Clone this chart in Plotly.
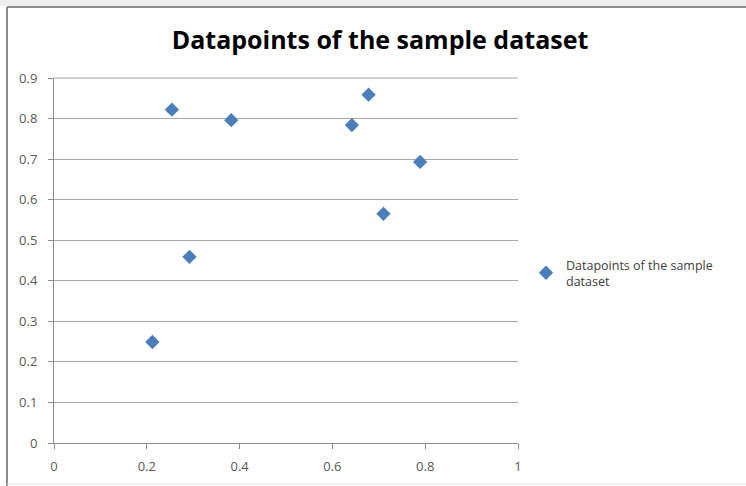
import plotly.graph_objects as go

# Data
x_vals = [0.254, 0.382, 0.292, 0.212, 0.642, 0.678, 0.789, 0.710]
y_vals = [0.822, 0.796, 0.459, 0.249, 0.784, 0.859, 0.693, 0.565]
series_name = "Datapoints of the sample<br>dataset"
title_text = "Datapoints of the sample dataset"
x_ticks = [0, 0.2, 0.4, 0.6, 0.8, 1]
x_tick_text = ["0", "0.2", "0.4", "0.6", "0.8", "1"]
y_ticks = [0, 0.1, 0.2, 0.3, 0.4, 0.5, 0.6, 0.7, 0.8, 0.9]
y_tick_text = ["0", "0.1", "0.2", "0.3", "0.4", "0.5", "0.6", "0.7", "0.8", "0.9"]

W, H = 746, 486
L, R, T, B = 54, 228, 78, 43
PW, PH = W - L - R, H - T - B


def px_to_paper_x(px):
    return (px - L) / PW


def px_to_paper_y(py):
    return (H - B - py) / PH


fig = go.Figure()
fig.add_trace(go.Scatter(
    x=x_vals, y=y_vals, mode="markers", name=series_name,
    marker=dict(symbol="diamond", size=11, color="#4a7ebb",
                line=dict(width=0)),
))

tick_font = dict(family="Open Sans, DejaVu Sans, sans-serif", size=13, color="#595959")

fig.update_layout(
    width=W, height=H,
    margin=dict(l=L, r=R, t=T, b=B, pad=0),
    paper_bgcolor="white", plot_bgcolor="white",
    title=dict(text="<b>" + title_text + "</b>",
               x=380 / W, xanchor="center",
               y=1 - 40 / H, yanchor="middle",
               font=dict(family="Open Sans, DejaVu Sans, sans-serif", size=25, color="black")),
    showlegend=True,
    legend=dict(x=px_to_paper_x(526), y=px_to_paper_y(273), xanchor="left", yanchor="middle",
                font=dict(family="Open Sans, DejaVu Sans, sans-serif", size=12.5, color="#404040"),
                bgcolor="rgba(0,0,0,0)", itemwidth=30, tracegroupgap=0),
    xaxis=dict(range=[0, 1], tickvals=x_ticks, ticktext=x_tick_text,
               showgrid=False, zeroline=False, showline=True, linecolor="#8c8c8c", linewidth=1,
               ticks="outside", ticklen=5, tickcolor="#8c8c8c", tickfont=tick_font,
               ticklabelstandoff=6, fixedrange=True),
    yaxis=dict(range=[0, 0.9], tickvals=y_ticks, ticktext=y_tick_text,
               showgrid=True, gridcolor="#a6a6a6", gridwidth=1,
               zeroline=False, showline=True, linecolor="#8c8c8c", linewidth=1,
               ticks="outside", ticklen=5, tickcolor="#8c8c8c", tickfont=tick_font,
               ticklabelstandoff=8, fixedrange=True),
    shapes=[
        # top gridline at the end of the value axis
        dict(type="line", xref="paper", yref="paper", x0=0, x1=1, y0=1, y1=1,
             line=dict(color="#a6a6a6", width=1)),
        # spreadsheet band at the top
        dict(type="rect", xref="paper", yref="paper",
             x0=px_to_paper_x(0), x1=px_to_paper_x(W), y0=px_to_paper_y(6), y1=px_to_paper_y(0),
             fillcolor="#eeeeee", line=dict(width=0), layer="below"),
        # chart frame left and top edges
        dict(type="line", xref="paper", yref="paper",
             x0=px_to_paper_x(7), x1=px_to_paper_x(7), y0=px_to_paper_y(H), y1=px_to_paper_y(7),
             line=dict(color="#8c8c8c", width=2)),
        dict(type="line", xref="paper", yref="paper",
             x0=px_to_paper_x(7), x1=px_to_paper_x(W), y0=px_to_paper_y(7), y1=px_to_paper_y(7),
             line=dict(color="#8c8c8c", width=2)),
        dict(type="line", xref="paper", yref="paper",
             x0=px_to_paper_x(7), x1=px_to_paper_x(W), y0=px_to_paper_y(484), y1=px_to_paper_y(484),
             line=dict(color="#e0e0e0", width=1)),
    ],
)

fig.write_html("out.html")
